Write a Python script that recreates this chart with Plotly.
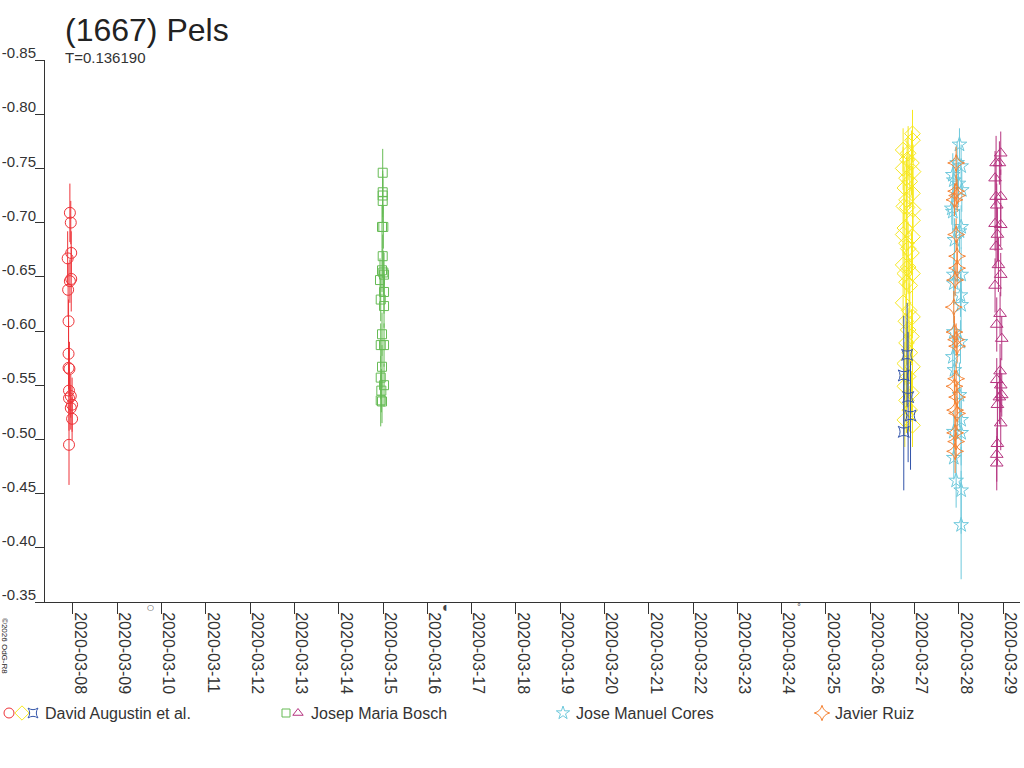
import plotly.graph_objects as go
import pandas as pd

# ---------------- data (offsets in days from session date, magnitudes, errors) ----------------
red_date = "2020-03-08"
red_off = [-0.07, -0.05, -0.04, -0.12, -0.04, -0.07, -0.11, -0.10, -0.10, -0.10, -0.08, -0.09, -0.09, -0.05, -0.02, -0.05, -0.02, -0.09]
red_mag = [-0.709, -0.700, -0.672, -0.667, -0.648, -0.646, -0.638, -0.609, -0.579, -0.566, -0.565, -0.545, -0.538, -0.540, -0.532, -0.529, -0.519, -0.495]
red_err = [0.027, 0.020, 0.020, 0.025, 0.030, 0.020, 0.025, 0.020, 0.030, 0.020, 0.025, 0.020, 0.030, 0.020, 0.025, 0.020, 0.020, 0.037]

green_date = "2020-03-15"
green_off = [-0.007, -0.007, -0.007, -0.007, -0.023, 0.007, -0.007, -0.023, 0.007, 0.023, -0.068, 0.023, -0.052, 0.023, -0.023, -0.052, 0.023, -0.023, -0.052, 0.023, -0.038, -0.052, -0.023]
green_mag = [-0.746, -0.728, -0.725, -0.720, -0.696, -0.696, -0.669, -0.656, -0.654, -0.652, -0.647, -0.636, -0.629, -0.623, -0.597, -0.587, -0.587, -0.567, -0.557, -0.550, -0.545, -0.536, -0.535]
green_err = [0.022, 0.020, 0.020, 0.020, 0.020, 0.020, 0.020, 0.020, 0.020, 0.020, 0.020, 0.020, 0.020, 0.020, 0.020, 0.020, 0.020, 0.020, 0.020, 0.020, 0.020, 0.024, 0.020]

yellow_date = "2020-03-27"
yellow_off = [-0.045, -0.045, -0.257, -0.144, -0.167, -0.068, -0.257, -0.032, -0.181, -0.106, -0.219, -0.045, -0.181, -0.242, -0.167, -0.032, -0.045, -0.219, -0.257, -0.045, -0.181, -0.144, -0.068, -0.257, -0.144, -0.219, -0.045, -0.181, -0.106, -0.257, -0.122, -0.045, -0.196, -0.144, -0.068, -0.181, -0.106, -0.219, -0.045, -0.144, -0.219, -0.068, -0.181, -0.106, -0.219, -0.045]
yellow_mag = [-0.782, -0.776, -0.767, -0.764, -0.758, -0.755, -0.750, -0.747, -0.741, -0.738, -0.732, -0.727, -0.721, -0.715, -0.714, -0.712, -0.702, -0.695, -0.689, -0.687, -0.681, -0.676, -0.672, -0.661, -0.659, -0.653, -0.653, -0.645, -0.642, -0.626, -0.619, -0.613, -0.609, -0.601, -0.595, -0.589, -0.580, -0.570, -0.567, -0.558, -0.549, -0.543, -0.536, -0.527, -0.518, -0.513]
yellow_err = [0.022, 0.020, 0.020, 0.025, 0.020, 0.030, 0.020, 0.025, 0.020, 0.025, 0.020, 0.025, 0.020, 0.020, 0.025, 0.020, 0.025, 0.020, 0.020, 0.025, 0.020, 0.025, 0.020, 0.020, 0.025, 0.020, 0.025, 0.020, 0.025, 0.020, 0.025, 0.020, 0.025, 0.020, 0.025, 0.020, 0.025, 0.020, 0.025, 0.020, 0.025, 0.020, 0.030, 0.020, 0.025, 0.020]

blue_date = "2020-03-27"
blue_off = [-0.167, -0.242, -0.144, -0.090, -0.242]
blue_mag = [-0.578, -0.559, -0.539, -0.522, -0.507]
blue_err = [0.048, 0.055, 0.060, 0.050, 0.054]

cyan_date = "2020-03-28"
cyan_off = [0.015, -0.038, 0.053, -0.135, -0.113, -0.008, 0.068, -0.158, -0.135, 0.053, 0.015, -0.098, -0.113, 0.053, -0.113, 0.038, 0.053, -0.113, 0.038, -0.135, -0.098, 0.015, 0.053, -0.113, 0.053, -0.113, -0.060, 0.053, 0.053]
cyan_mag = [-0.772, -0.755, -0.752, -0.744, -0.739, -0.736, -0.730, -0.713, -0.710, -0.696, -0.692, -0.684, -0.652, -0.652, -0.644, -0.633, -0.624, -0.599, -0.590, -0.576, -0.564, -0.541, -0.518, -0.507, -0.506, -0.483, -0.462, -0.453, -0.421]
cyan_err = [0.015, 0.020, 0.020, 0.020, 0.020, 0.020, 0.020, 0.015, 0.020, 0.020, 0.020, 0.020, 0.020, 0.025, 0.020, 0.020, 0.025, 0.020, 0.020, 0.020, 0.020, 0.030, 0.030, 0.020, 0.030, 0.020, 0.025, 0.040, 0.050]

orange_date = "2020-03-28"
orange_off = [-0.060, -0.060, -0.038, -0.098, -0.060, -0.038, -0.038, -0.083, -0.113, -0.098, -0.060, -0.038, -0.060, -0.098, -0.038, -0.083, -0.038, -0.083, -0.060, -0.083]
orange_mag = [-0.755, -0.729, -0.725, -0.721, -0.689, -0.669, -0.658, -0.647, -0.622, -0.599, -0.592, -0.586, -0.556, -0.549, -0.539, -0.527, -0.524, -0.506, -0.498, -0.489]
orange_err = [0.015, 0.015, 0.015, 0.015, 0.015, 0.015, 0.015, 0.015, 0.015, 0.015, 0.015, 0.015, 0.015, 0.015, 0.015, 0.015, 0.015, 0.015, 0.015, 0.020]

magenta_date = "2020-03-29"
magenta_off = [-0.053, -0.158, -0.083, -0.181, -0.158, -0.053, -0.143, -0.181, -0.053, -0.128, -0.158, -0.105, -0.053, -0.181, -0.068, -0.143, -0.030, -0.068, -0.143, -0.053, -0.030, -0.083, -0.128, -0.053, -0.128, -0.143, -0.143]
magenta_mag = [-0.764, -0.755, -0.755, -0.741, -0.724, -0.724, -0.716, -0.699, -0.698, -0.689, -0.678, -0.661, -0.652, -0.642, -0.616, -0.606, -0.593, -0.563, -0.555, -0.550, -0.541, -0.539, -0.532, -0.515, -0.496, -0.486, -0.478]
magenta_err = [0.020, 0.025, 0.020, 0.025, 0.020, 0.025, 0.020, 0.025, 0.020, 0.025, 0.020, 0.025, 0.020, 0.025, 0.020, 0.025, 0.020, 0.025, 0.020, 0.025, 0.020, 0.025, 0.020, 0.025, 0.020, 0.025, 0.025]

y_ticks = [-0.85, -0.80, -0.75, -0.70, -0.65, -0.60, -0.55, -0.50, -0.45, -0.40, -0.35]
y_ticklabels = ["-0.85", "-0.80", "-0.75", "-0.70", "-0.65", "-0.60", "-0.55", "-0.50", "-0.45", "-0.40", "-0.35"]
x_ticks = [f"2020-03-{d:02d}" for d in range(8, 30)]
x_range = ["2020-03-07 08:50", "2020-03-29 09:10"]
y_range = [-0.35, -0.85]

moon_dates = ["2020-03-09 17:48", "2020-03-16 09:34", "2020-03-24 09:28"]
moon_symbols = ["○", "◖", "°"]

title_text = "(1667) Pels"
subtitle_text = "T=0.136190"
footer_text = "©2026 OdG-R8"

legend_names = ["David Augustin et al.", "Josep Maria Bosch", "Jose Manuel Cores", "Javier Ruiz"]

# ---------------- styling ----------------
FONT = "Liberation Sans, Arial, sans-serif"
TXT = "#333333"
C_RED = "#ee3338"
C_GREEN = "#66bb55"
C_YELLOW = "#f7e81f"
C_BLUE = "#3355aa"
C_CYAN = "#6ec9dc"
C_ORANGE = "#f58232"
C_MAGENTA = "#b5337f"

W, H = 1024, 768
PL, PR, PT, PB = 45, 1020, 60, 602  # plot area in pixels


def fx(px):
    return px / W


def fy(py):
    return 1 - py / H


def times(date, offs):
    base = pd.Timestamp(date)
    return [base + pd.Timedelta(days=o) for o in offs]


fig = go.Figure()

series = [
    (red_date, red_off, red_mag, red_err, C_RED, "circle-open", 11),
    (green_date, green_off, green_mag, green_err, C_GREEN, "square-open", 9),
    (yellow_date, yellow_off, yellow_mag, yellow_err, C_YELLOW, "diamond-open", 12),
    (blue_date, blue_off, blue_mag, blue_err, C_BLUE, "star-square-open", 10),
    (cyan_date, cyan_off, cyan_mag, cyan_err, C_CYAN, "star-open", 11),
    (orange_date, orange_off, orange_mag, orange_err, C_ORANGE, "star-diamond-open", 12),
    (magenta_date, magenta_off, magenta_mag, magenta_err, C_MAGENTA, "triangle-up-open", 11),
]

for date, offs, mags, errs, col, sym, sz in series:
    fig.add_trace(go.Scatter(
        x=times(date, offs), y=mags, mode="markers",
        marker=dict(symbol=sym, size=sz, color=col, line=dict(width=1, color=col)),
        error_y=dict(type="data", array=errs, visible=True, color=col, thickness=1, width=0),
        showlegend=False, hoverinfo="skip",
    ))

# ---------------- custom legend below the plot (pixel overlay axes) ----------------
legend_marks = [
    (9, C_RED, "circle-open", 10), (22, C_YELLOW, "diamond-open", 11), (33, C_BLUE, "star-square-open", 9),
    (286, C_GREEN, "square-open", 8), (298, C_MAGENTA, "triangle-up-open", 9),
    (563, C_CYAN, "star-open", 10),
    (822, C_ORANGE, "star-diamond-open", 11),
]
legend_text_x = [43, 309, 574, 833]
LEG_Y = 713
for lx, col, sym, sz in legend_marks:
    fig.add_trace(go.Scatter(
        x=[lx], y=[LEG_Y], xaxis="x2", yaxis="y2", mode="markers",
        marker=dict(symbol=sym, size=sz, color=col, line=dict(width=1, color=col)),
        showlegend=False, hoverinfo="skip",
    ))

annotations = []
for tx, name in zip(legend_text_x, legend_names):
    annotations.append(dict(x=fx(tx), y=fy(LEG_Y), xref="paper", yref="paper", text=name, showarrow=False,
                            xanchor="left", yanchor="middle", font=dict(family=FONT, size=16, color=TXT)))

annotations.append(dict(x=fx(63), y=fy(30), xref="paper", yref="paper", text=title_text, showarrow=False,
                        xanchor="left", yanchor="middle", font=dict(family=FONT, size=32, color="#222222")))
annotations.append(dict(x=fx(63), y=fy(57), xref="paper", yref="paper", text=subtitle_text, showarrow=False,
                        xanchor="left", yanchor="middle", font=dict(family=FONT, size=15, color=TXT)))
annotations.append(dict(x=fx(5), y=fy(646), xref="paper", yref="paper", text=footer_text, showarrow=False,
                        textangle=90, xanchor="center", yanchor="middle",
                        font=dict(family=FONT, size=8, color="#222222")))
for md, ms in zip(moon_dates, moon_symbols):
    annotations.append(dict(x=md, y=fy(607), xref="x", yref="paper", text=ms, showarrow=False,
                            xanchor="center", yanchor="middle", font=dict(family="DejaVu Sans", size=8, color="#444444")))

fig.update_layout(
    width=W, height=H,
    margin=dict(l=0, r=0, t=0, b=0, pad=0),
    paper_bgcolor="white", plot_bgcolor="rgba(0,0,0,0)",
    font=dict(family=FONT, color=TXT),
    showlegend=False,
    annotations=annotations,
    xaxis=dict(
        domain=[fx(PL), fx(PR)], anchor="y",
        type="date", range=x_range, tickmode="array", tickvals=x_ticks, ticktext=x_ticks,
        tickangle=90, ticks="outside", ticklen=11, tickcolor=TXT, tickwidth=1,
        showline=True, linecolor=TXT, linewidth=1, showgrid=False, zeroline=False, automargin=False,
        tickfont=dict(family=FONT, size=16, color=TXT), ticklabelshift=7, ticklabelstandoff=-5,
    ),
    yaxis=dict(
        domain=[fy(PB), fy(PT)], anchor="x",
        range=y_range, tickmode="array", tickvals=y_ticks, ticktext=y_ticklabels,
        ticks="outside", ticklen=9, tickcolor=TXT, tickwidth=1,
        showline=True, linecolor=TXT, linewidth=1, showgrid=False, zeroline=False, automargin=False,
        tickfont=dict(family=FONT, size=15, color=TXT), ticklabelshift=7, ticklabelstandoff=-4,
    ),
    xaxis2=dict(domain=[0, 1], anchor="y2", range=[0, W], visible=False, fixedrange=True),
    yaxis2=dict(domain=[0, 1], anchor="x2", range=[H, 0], visible=False, fixedrange=True),
)

fig.write_html("out.html", config={"displayModeBar": False},
               post_script="document.body.style.margin='0px';")
